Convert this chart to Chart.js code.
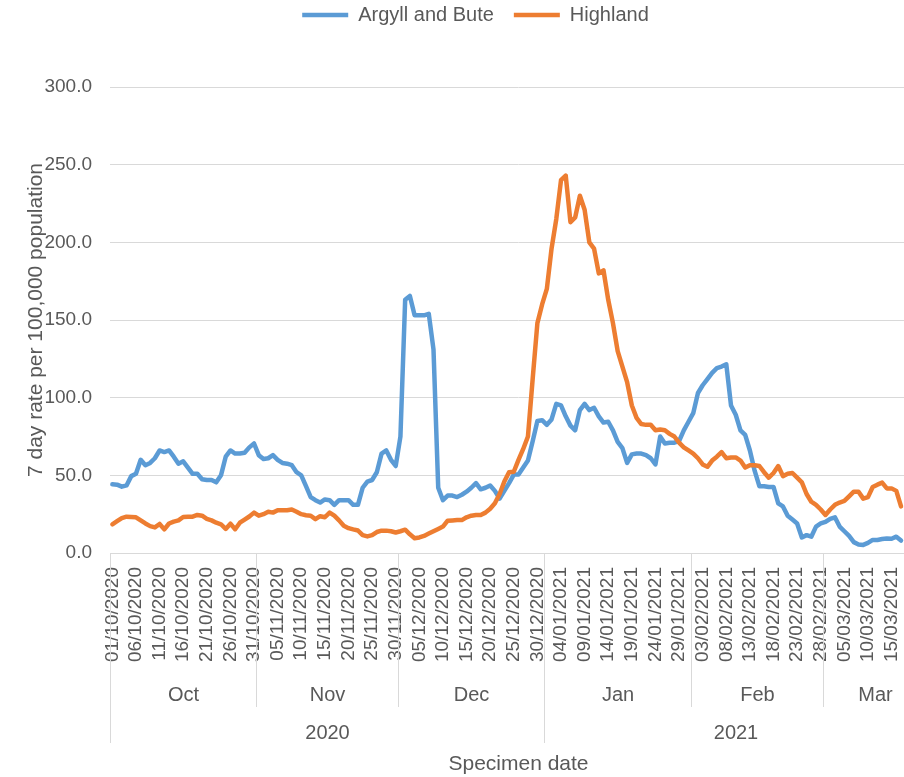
<!DOCTYPE html>
<html>
<head>
<meta charset="utf-8">
<title>7 day rate per 100,000 population</title>
<script src="https://cdn.jsdelivr.net/npm/chart.js@4.4.1/dist/chart.umd.min.js"></script>
<style>
  html, body { margin: 0; padding: 0; background: #fff; overflow: hidden; }
  /* the original picture is cut off on the right, so the chart is a bit wider than the frame */
  .frame { width: 904px; height: 777px; overflow: hidden; }
  .chart-box { position: relative; width: 927px; height: 777px; }
</style>
</head>
<body>
<div class="frame"><div class="chart-box"><canvas id="rateChart"></canvas></div></div>
<script>
// one category per specimen day, starting 01/10/2020
const firstDay = [2020, 9, 1]
const dayCount = 173
const monthNames = ['Jan', 'Feb', 'Mar', 'Apr', 'May', 'Jun', 'Jul', 'Aug', 'Sep', 'Oct', 'Nov', 'Dec']

const argyllAndBute = [
  44.2, 44, 42.7, 43.5, 49.5, 51, 60, 56.5, 58, 61,
  66, 65, 66, 62, 57.5, 59, 55, 51, 51, 47.5,
  47, 47, 45.5, 50, 62, 66, 64, 64, 64.5, 68,
  70.5, 63, 60.5, 61, 63, 60, 58, 57.5, 56.5, 52,
  50, 43, 36, 34, 32.5, 34.5, 34, 31, 34, 34,
  34, 31, 31, 42, 46, 47, 52, 64, 66, 60,
  56, 75, 163, 165.5, 153, 153, 153, 154, 131, 42,
  34, 37, 37, 36, 37.5, 39.5, 42, 45, 41, 42,
  43.5, 40, 35, 40, 45, 50.5, 50.5, 55, 59.5, 72,
  85, 85.5, 82.5, 86, 96, 95, 88, 82, 79, 92,
  96, 92, 93.5, 88, 84, 84.5, 79, 71.5, 67.5, 58,
  63.5, 64, 64, 63, 61, 57, 75, 70.5, 71, 71,
  72, 79, 84.5, 90, 103, 108, 112, 116, 119, 120,
  121.5, 95, 89, 79, 76, 66, 53, 43, 43, 42.5,
  42.5, 32, 30, 24, 21.5, 19, 10, 11.5, 10.5, 17,
  19, 20, 22, 23, 17, 14, 11, 7, 5.5, 5.2,
  6.5, 8.4, 8.4, 9, 9.4, 9.2, 10.5, 8
]

const highland = [
  18.5, 20.5, 22.5, 23.4, 23.2, 23, 21, 19, 17.3, 16.5,
  18.7, 15.2, 19, 20.2, 21, 23.2, 23.4, 23.4, 24.5, 24,
  22, 21, 19.5, 18.5, 15.5, 18.9, 15.3, 19.5, 21.5, 23.5,
  26, 24, 25, 26.5, 26, 27.5, 27.5, 27.5, 28, 26.6,
  25, 24.3, 24, 21.8, 23.7, 23, 26, 24, 21, 17.5,
  16, 15.2, 14.5, 11.5, 10.7, 11.5, 13.5, 14.4, 14.4, 14,
  13.2, 14, 15, 12, 9.5, 10, 11, 12.5, 14, 15.5,
  17, 20.8, 21, 21.2, 21.2, 23, 24, 24.4, 24.5, 26,
  28.5, 32, 38, 46, 52, 52.3, 60, 67, 75, 112,
  148, 160, 170, 196, 215, 240, 243, 213, 216, 230,
  221, 200, 196, 180, 182, 163, 148, 130, 120, 110,
  95, 87, 83, 82.5, 82.5, 79, 79.5, 79, 76.7, 75,
  71, 68, 66, 64, 61, 57, 55.5, 59.5, 62, 65,
  61, 61.5, 61.5, 59.5, 55, 56.5, 56.5, 56, 52, 48.5,
  51.5, 56, 49.5, 51, 51.5, 48.5, 45.5, 38, 33, 31,
  28, 24.5, 28, 31, 32.5, 33.5, 36.5, 39.5, 39.5, 35,
  36, 42.5, 44, 45.3, 41.6, 41.6, 40, 30
]

const FONT = "'Liberation Sans', Arial, sans-serif"
const TEXT = '#595959'
const GRID = '#d9d9d9'

const dayLabels = []
for (let i = 0; i < dayCount; i++) {
  const d = new Date(Date.UTC(firstDay[0], firstDay[1], firstDay[2] + i))
  const dd = String(d.getUTCDate()).padStart(2, '0')
  const mm = String(d.getUTCMonth() + 1).padStart(2, '0')
  dayLabels.push(`${dd}/${mm}/${d.getUTCFullYear()}`)
}

// runs of consecutive labels sharing a key (month or year)
const groupLabels = keyOf => {
  const groups = []
  dayLabels.forEach((label, i) => {
    const key = keyOf(label)
    const last = groups[groups.length - 1]
    if (last && last.key === key) last.end = i + 1
    else groups.push({ key, start: i, end: i + 1 })
  })
  return groups
}

// month and year rows under the day labels, Excel style
const groupedAxis = {
  id: 'groupedAxis',
  afterDraw(chart) {
    const { ctx, scales: { x } } = chart
    const half = (x.getPixelForValue(1) - x.getPixelForValue(0)) / 2
    const edge = i => Math.round(x.getPixelForValue(i) - half) + 0.5
    const months = groupLabels(l => l.slice(3))
    const years = groupLabels(l => l.slice(6))
    const yearStarts = years.map(g => g.start)

    ctx.save()
    ctx.strokeStyle = GRID
    ctx.lineWidth = 1
    ctx.fillStyle = TEXT
    ctx.font = `20px ${FONT}`
    ctx.textAlign = 'center'
    ctx.textBaseline = 'middle'

    months.forEach(g => {
      if (!yearStarts.includes(g.start)) {
        ctx.beginPath()
        ctx.moveTo(edge(g.start), x.top)
        ctx.lineTo(edge(g.start), x.top + 154)
        ctx.stroke()
      }
      const name = monthNames[Number(g.key.slice(0, 2)) - 1]
      ctx.fillText(name, (edge(g.start) + edge(g.end)) / 2, x.top + 142)
    })

    years.forEach(g => {
      ctx.beginPath()
      ctx.moveTo(edge(g.start), x.top)
      ctx.lineTo(edge(g.start), x.top + 190)
      ctx.stroke()
      ctx.fillText(g.key, (edge(g.start) + edge(g.end)) / 2, x.top + 180)
    })
    ctx.restore()
  }
}

// keep the legend high up with a gap above the plot
const legendSpacing = {
  id: 'legendSpacing',
  beforeInit(chart) {
    const fit = chart.legend.fit
    chart.legend.fit = function () {
      fit.call(this)
      this.height = 87
    }
  },
  afterLayout(chart) {
    chart.legend.top -= 15
    chart.legend.left += 12
    chart.legend.right += 12
  }
}

Chart.defaults.font.family = FONT
Chart.defaults.color = TEXT

new Chart(document.getElementById('rateChart'), {
  type: 'line',
  data: {
    labels: dayLabels,
    datasets: [
      {
        label: 'Argyll and Bute',
        data: argyllAndBute,
        borderColor: '#5B9BD5',
        backgroundColor: '#5B9BD5',
        borderWidth: 4.5,
        pointRadius: 0,
        tension: 0,
        borderJoinStyle: 'round',
        borderCapStyle: 'round',
        order: 1
      },
      {
        label: 'Highland',
        data: highland,
        borderColor: '#ED7D31',
        backgroundColor: '#ED7D31',
        borderWidth: 4.5,
        pointRadius: 0,
        tension: 0,
        borderJoinStyle: 'round',
        borderCapStyle: 'round',
        order: 0
      }
    ]
  },
  options: {
    responsive: true,
    maintainAspectRatio: false,
    animation: false,
    devicePixelRatio: 1,
    layout: { padding: 0 },
    plugins: {
      tooltip: { enabled: false },
      legend: {
        position: 'top',
        labels: {
          usePointStyle: true,
          pointStyle: 'line',
          pointStyleWidth: 46,
          padding: 20,
          color: TEXT,
          font: { size: 20 },
          sort: (a, b) => a.datasetIndex - b.datasetIndex
        }
      }
    },
    scales: {
      x: {
        type: 'category',
        offset: true,
        afterFit: scale => {
          scale.height = 224
          scale.paddingLeft = 0
          scale.paddingRight = 0
        },
        grid: { display: false },
        border: { display: true, color: GRID, width: 1 },
        ticks: {
          autoSkip: false,
          minRotation: 90,
          maxRotation: 90,
          padding: 6,
          font: { size: 19 },
          callback(value, index) {
            return index % 5 === 0 ? this.getLabelForValue(value) : ''
          }
        },
        title: {
          display: true,
          text: 'Specimen date',
          font: { size: 21 },
          padding: { top: 0, bottom: 0 }
        }
      },
      y: {
        min: 0,
        max: 300,
        afterFit: scale => { scale.width = 110 },
        grid: { color: GRID, lineWidth: 1, drawTicks: false },
        border: { display: false },
        ticks: {
          stepSize: 50,
          padding: 18,
          font: { size: 19 },
          callback: value => value.toFixed(1)
        },
        title: {
          display: true,
          text: '7 day rate per 100,000 population',
          font: { size: 21 },
          padding: { top: 24, bottom: 0 }
        }
      }
    }
  },
  plugins: [groupedAxis, legendSpacing]
})
</script>
</body>
</html>
